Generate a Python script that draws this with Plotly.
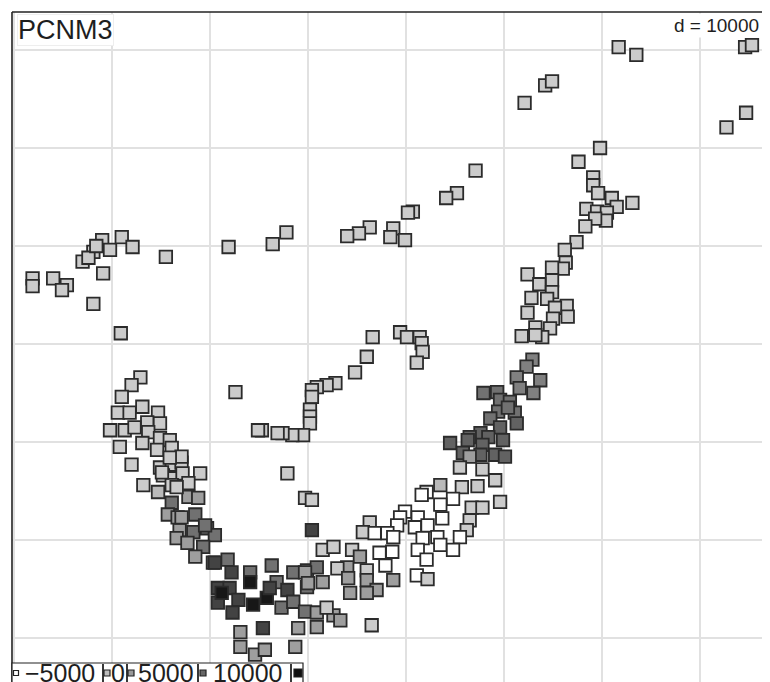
import plotly.graph_objects as go

# Site coordinates (km) and PCNM3 values
x_km = [
    # upper right corner
    51.7, 53.5, 64.6, 65.3, 62.7, 64.7, 44.2, 44.9, 42.1,
    # right arm, upper part
    49.8, 47.6, 49.1, 49.1, 49.6, 51.0, 53.1, 51.5, 48.4, 49.5, 50.5, 50.4, 49.3, 48.3,
    47.4, 46.2, 46.3, 46.0, 44.9, 42.4, 44.9, 43.6, 44.9, 42.8, 44.4, 46.4, 45.2, 46.5,
    45.0, 42.4, 43.2, 44.7, 41.8, 43.9, 43.2,
    # right arm, dark part
    42.9, 42.3, 41.3, 43.7, 41.6, 43.0, 37.9, 39.3, 39.6, 40.6, 39.4, 41.1, 40.4, 38.6,
    41.3, 39.6, 37.6, 36.5, 34.5, 36.3, 38.4, 39.9, 37.8, 39.1, 40.1, 35.8, 37.6, 36.5,
    35.5, 37.8, 39.1, 33.5, 35.7, 37.3,
    # white patch
    32.1, 31.6, 34.8, 33.5, 36.7, 37.8, 39.6, 29.9, 29.4, 31.2, 33.7, 36.5, 29.1, 30.9,
    32.2, 36.2, 26.3, 25.6, 26.8, 28.1, 28.7, 31.7, 33.2, 35.5, 33.5, 34.8, 31.2, 28.6,
    27.3, 32.1, 27.9, 31.1, 32.2, 28.7,
    # bottom centre
    19.7, 20.4, 20.4, 21.5, 22.6, 24.5, 25.3, 24.0, 23.0, 26.0, 26.0, 24.1, 27.0, 26.0,
    24.3, 19.9, 20.9, 19.9, 21.5,
    # bottom dark cluster
    10.3, 11.8, 12.2, 14.1, 16.3, 18.5, 19.7, 10.8, 12.0, 14.1, 16.8, 17.9, 20.0, 10.8,
    12.9, 14.4, 15.8, 17.3, 18.5, 19.7, 20.9, 22.6, 23.3, 12.3, 15.4, 13.1, 19.0, 21.9,
    20.9, 26.5, 13.1, 14.6, 15.6, 18.7, 11.2, 16.1,
    # left arm, lower part
    2.0, 3.2, 4.7, 4.9, 6.1, 7.1, 5.2, 6.2, 7.2, 9.0, 6.1, 7.8, 6.1, 7.8, 8.8, 5.7,
    6.7, 8.5, 6.9, 6.6, 8.3, 9.7, 10.5, 7.7, 9.3, 8.5, 10.5,
    # left arm, upper part
    2.9, 2.0, 1.0, 3.1, 4.7, 0.6, 1.8, 3.6, 4.9, -0.2, 1.3, 2.3, 3.7, 4.9, 5.9, 3.1,
    0.8, 4.6, 6.1, 7.1, 5.9, 5.1, 6.6, 7.1, 9.5, 12.6, 15.3, 14.9,
    # middle chain
    26.6, 29.4, 30.1, 31.4, 31.6, 31.7, 31.1, 26.0, 24.8, 22.8, 21.9, 20.9, 20.4, 20.4,
    20.2, 20.2, 20.2, 19.5, 18.4, 17.4, 16.9, 17.9,
    # upper chain
    37.1, 35.2, 34.1, 30.7, 30.2, 28.7, 28.4, 29.9, 26.3, 25.2, 24.0, 17.8, 16.4, 11.9,
    # upper left
    -8.1, -8.1, -6.0, -4.6, -5.1, -3.0, -1.9, -1.0, -0.2, 1.0, 2.1, -0.9, -1.9, 0.9,
    5.5, -2.4, -1.6,
]

y_km = [
    60.3, 59.5, 60.3, 60.5, 52.1, 53.6, 56.4, 56.8, 54.6,
    50.0, 48.6, 47.0, 46.2, 45.4, 44.9, 44.4, 44.0, 43.8, 43.5, 43.4, 42.6, 42.8, 42.0,
    40.4, 39.6, 38.3, 37.7, 37.8, 37.1, 36.5, 36.1, 35.3, 34.7, 34.6, 33.9, 33.7, 32.8,
    32.6, 33.2, 31.7, 31.6, 30.8, 30.7, 30.9,
    28.4, 27.7, 26.6, 26.3, 25.5, 25.0, 25.0, 25.1, 24.3, 24.1, 23.1, 23.0, 23.5, 22.4,
    21.9, 21.5, 20.9, 20.5, 19.9, 20.2, 20.5, 20.2, 19.7, 18.7, 18.5, 18.9, 18.7, 18.5,
    17.4, 17.2, 16.1, 15.6, 15.4, 15.5,
    14.9, 14.6, 14.2, 13.6, 13.3, 13.3, 13.9, 12.9, 12.3, 12.3, 12.2, 12.0, 11.5, 11.3,
    11.5, 11.0, 11.8, 10.8, 10.7, 10.7, 10.3, 10.2, 10.3, 10.3, 9.5, 9.0, 9.0, 8.8,
    8.7, 8.0, 7.4, 6.4, 6.0, 5.9,
    14.3, 14.1, 11.0, 9.0, 9.3, 9.0, 8.3, 7.2, 7.1, 6.9, 5.9, 6.1, 4.9, 4.6,
    4.6, 6.9, 7.2, 5.2, 5.7,
    7.7, 8.0, 6.7, 6.7, 7.4, 6.7, 6.7, 5.1, 5.1, 5.7, 5.7, 4.9, 5.6, 3.6,
    3.9, 3.4, 4.1, 3.1, 3.7, 2.7, 2.6, 2.3, 1.8, 2.6, 1.0, 0.6, 1.0, 3.1,
    1.1, 1.3, -0.9, -1.7, -1.2, -0.9, 4.6, 5.1,
    17.7, 15.6, 14.9, 17.4, 17.7, 17.9, 16.6, 16.3, 16.8, 16.8, 15.6, 15.8, 13.8, 14.4, 14.3, 12.6,
    12.3, 12.6, 11.0, 10.2, 10.8, 11.2, 10.5, 9.7, 9.3, 8.3, 7.7,
    26.6, 25.8, 24.6, 23.6, 23.0, 23.0, 23.0, 22.0, 21.9, 21.2, 21.2, 21.5, 21.0, 20.4, 20.2, 19.9,
    19.5, 19.2, 19.4, 18.5, 18.4, 16.9, 15.4, 12.3, 11.5, 25.1, 21.2, 21.2,
    30.7, 31.2, 30.7, 30.7, 30.1, 29.2, 28.1, 28.7, 27.1, 26.0, 25.8, 25.6, 25.3, 24.6,
    23.3, 22.6, 21.9, 20.7, 20.7, 20.9, 20.9, 16.8,
    47.7, 45.4, 44.9, 43.5, 43.4, 41.8, 40.9, 40.6, 41.9, 41.3, 41.0, 41.4, 40.2, 39.9,
    36.7, 35.9, 36.7, 36.0, 35.5, 38.4, 39.4, 40.6, 39.6, 40.9, 39.9, 37.2, 34.1, 31.1,
    38.9, 38.8, 40.0,
]

pcnm3 = [
    -1500, -1500, -1500, -1500, -1500, -1500, -1500, -1500, -1500,
    -1500, -1500, -1500, -1500, -1500, -1500, -1500, -1500, -1500, -1500, -1500, -1500, -1500, -1500,
    -1500, -1500, -1500, -1500, -1500, -1500, -1500, -1500, -1500, -1500, -1500, -1500, -1500, -1500,
    -1500, -1500, -1500, -1500, -1500, -1500, -1500,
    3500, 3500, 3500, 3500, 3500, 3500, 4500, 4500, 4500, 4500, 4500, 4500, 4500, 4500,
    5500, 5500, 5500, 5500, 5500, 5500, 5500, 5500, 5500, 5500, 5500, 5500, 5500, 1500,
    -1500, -1500, -1500, -300, -1500, -1500,
    -5500, -5500, -5500, -5500, -1500, -1500, -1500, -5500, -5500, -5500, -5500, -1500, -5500, -5500,
    -5500, -1500, -1500, -1500, -5500, -5500, -5500, -5500, -5500, -5500, -5500, -5500, -5500, -5500,
    -5500, -5500, -5500, -5500, -1500, 1500,
    -1500, -1500, 7500, -1500, -1500, -1500, 1500, 1500, -1500, -1500, 1500, 1500, 1500, 1500,
    1500, 4500, 4500, 4500, 1500,
    4500, 4500, 7500, 4500, 4500, 4500, 1500, 7500, 7500, 10500, 4500, 7500, 1500, 7500,
    7500, 10500, 10500, 4500, 4500, 4500, 1500, 1500, 1500, 7500, 7500, 1500, 1500, -1500,
    1500, -1500, 1500, 1500, 1500, 1500, 10500, 7500,
    -1500, -1500, -300, -1500, -1500, -1500, -1500, -1500, -1500, -1500, -1500, -1500, 4500, 1500, 1500, 1500,
    1500, 4500, 1500, 1500, 4500, 4500, 4500, 1500, 4500, 1500, 7500,
    -1500, -1500, -1500, -1500, -1500, -1500, -1500, -1500, -1500, -1500, -1500, -1500, -1500, -1500, -1500, -1500,
    -1500, -1500, -1500, -1500, -1500, -1500, -1500, 1500, 4500, -1500, -1500, -1500,
    -1500, -1500, -1500, -1500, -1500, -1500, -1500, -1500, -1500, -1500, -1500, -1500, -1500, -1500,
    -1500, -1500, -1500, -1500, -1500, -1500, -1500, -1500,
    -1500, -1500, -1500, -1500, -1500, -1500, -1500, -1500, -1500, -1500, -1500, -1500, -1500, -1500,
    -1500, -1500, -1500, -1500, -1500, -1500, -1500, -1500, -1500, -1500, -1500, -1500, -1500, -1500,
    -1500, -1500, -1500,
]

legend_values = [-5000, 0, 5000, 10000]
legend_greys = ["#ffffff", "#bdbdbd", "#999999", "#666666", "#111111"]
grid_d = 10000  # metres
variable_name = "PCNM3"

assert len(x_km) == len(y_km) == len(pcnm3), (len(x_km), len(y_km), len(pcnm3))

FONT = "Liberation Sans, Arial, sans-serif"
OFF = 8                     # default page body margin
W, H = 770 - OFF, 682 - OFF
ML, MT, MR, MB = 12 - OFF, 12 - OFF, 0, 0
PW, PH = W - ML - MR, H - MT - MB   # plot area spans page px 12..770, 12..682


def px(xp):
    return (xp - 12) / PW


def py(yp):
    return (682 - yp) / PH


fig = go.Figure()
fig.add_trace(go.Scatter(
    x=x_km, y=y_km, mode="markers",
    marker=dict(
        symbol="square", size=12.5,
        color=pcnm3, cmin=-5000, cmax=12000,
        colorscale=[[0, "#ffffff"], [1, "#000000"]],
        line=dict(color="#2b2b2b", width=1.8),
    ),
    hoverinfo="skip", showlegend=False,
))

d_km = grid_d / 1000
fig.update_xaxes(range=[-10.20, 67.14], tick0=0, dtick=d_km, showticklabels=False,
                 showgrid=True, gridcolor="#e1e1e1", gridwidth=2, zeroline=False,
                 showline=False, ticks="")
fig.update_yaxes(range=[-4.49, 63.88], tick0=0, dtick=d_km, showticklabels=False,
                 showgrid=True, gridcolor="#e1e1e1", gridwidth=2, zeroline=False,
                 showline=False, ticks="")

shapes = [
    dict(type="line", xref="paper", yref="paper", x0=0, x1=1, y0=1, y1=1,
         line=dict(color="#222222", width=1.6), layer="above"),
    dict(type="line", xref="paper", yref="paper", x0=0, x1=0, y0=0, y1=1,
         line=dict(color="#222222", width=1.6), layer="above"),
    # legend box
    dict(type="rect", xref="paper", yref="paper", x0=px(12), x1=px(303), y0=-0.02, y1=py(663),
         fillcolor="white", line=dict(color="#222222", width=1.2), layer="above"),
]
for sep in [103, 127, 198, 291]:
    shapes.append(dict(type="line", xref="paper", yref="paper", x0=px(sep), x1=px(sep),
                       y0=-0.02, y1=py(664), line=dict(color="#222222", width=1.8), layer="above"))
sq_pos = [(16, 5), (107, 6), (131, 6), (203, 6), (298, 8)]
for (cx, s), col in zip(sq_pos, legend_greys):
    shapes.append(dict(type="rect", xref="paper", yref="paper",
                       x0=px(cx - s / 2), x1=px(cx + s / 2), y0=py(673 + s / 2), y1=py(673 - s / 2),
                       fillcolor=col, line=dict(color="#222222", width=1.2), layer="above"))

annotations = [
    dict(text=variable_name, xref="paper", yref="paper", x=px(17), y=py(30),
         xanchor="left", yanchor="middle", showarrow=False,
         font=dict(family=FONT, size=27, color="#1e1e1e"),
         bgcolor="white", bordercolor="#eeeeee", borderpad=0),
    dict(text=f"d = {grid_d}", xref="paper", yref="paper", x=px(761), y=py(26),
         xanchor="right", yanchor="middle", showarrow=False,
         font=dict(family=FONT, size=19, color="#1e1e1e"),
         bgcolor="white", borderpad=1),
]
label_x = [60, 118, 166, 248]
for v, cx in zip(legend_values, label_x):
    annotations.append(dict(text=str(v).replace("-", "\u2212"), xref="paper", yref="paper",
                            x=px(cx), y=py(673), xanchor="center", yanchor="middle",
                            showarrow=False, font=dict(family=FONT, size=25, color="#1e1e1e")))

fig.update_layout(
    width=W, height=H, margin=dict(l=ML, r=MR, t=MT, b=MB),
    plot_bgcolor="white", paper_bgcolor="white",
    shapes=shapes, annotations=annotations,
)

fig.write_html("out.html")
